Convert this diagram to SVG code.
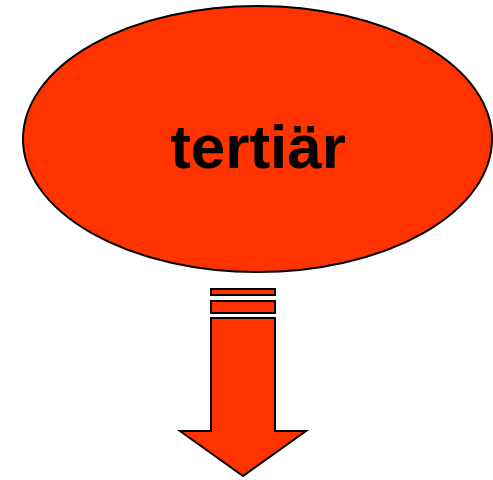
<svg xmlns="http://www.w3.org/2000/svg" width="493" height="480" viewBox="0 0 493 480">
<style>
.shape{fill:#FF3300;stroke:#000;stroke-width:2}
.lbl{font-family:"Liberation Sans",Arial,sans-serif;font-weight:bold;font-size:62px;fill:#000;text-anchor:middle}
</style>
<rect width="493" height="480" fill="#fff"/>
<g id="node-tertiaer">
<ellipse class="shape" cx="257.5" cy="139" rx="234.5" ry="133"/>
<text class="lbl" x="258" y="168">tertiär</text>
</g>
<g id="connectors">
<rect class="shape" x="211" y="289" width="64" height="6"/>
<rect class="shape" x="211" y="301" width="64" height="12"/>
<path class="shape" d="M211,318 L275,318 L275,431 L306,431 L243,476 L180,431 L211,431 Z" stroke-linejoin="miter"/>
</g>
</svg>
